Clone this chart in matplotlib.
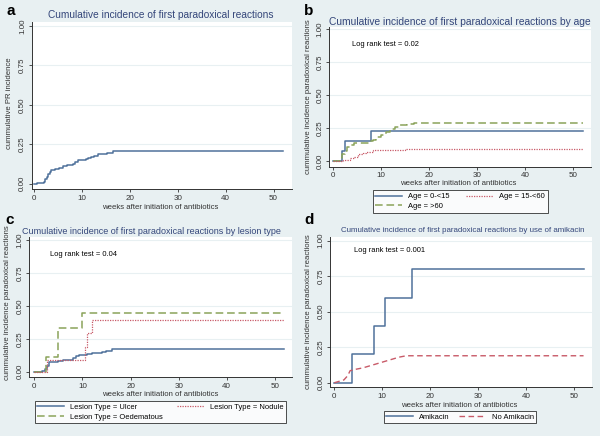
import matplotlib
matplotlib.use("Agg")
import matplotlib.pyplot as plt

plt.rcParams['font.family'] = ['Liberation Sans', 'DejaVu Sans']

W, H = 600, 436
BG = '#e8f0f2'
TITLE_C = '#34467a'
BLUE = '#4f719b'
RED = '#c85a68'
GREEN = '#8aa35a'

# panel a: all patients
a_t = [0, 0.6, 2.0, 2.3, 2.6, 2.9, 3.2, 3.5, 4.3, 5.2, 6.0, 6.8, 8.0, 8.6, 9.1,
       10.9, 11.3, 11.8, 12.5, 13.3, 14.2, 15.1, 16.5, 52]
a_y = [0, 0.007, 0.013, 0.03, 0.045, 0.06, 0.075, 0.085, 0.09, 0.10, 0.11, 0.12,
       0.125, 0.135, 0.148, 0.156, 0.165, 0.172, 0.178, 0.185, 0.19, 0.197, 0.205, 0.205]

# panel b: by age
b_young_t = [0, 1.9, 2.5, 8.0, 52]
b_young_y = [0, 0.076, 0.155, 0.228, 0.228]
b_mid_t = [0, 2.2, 3.5, 4.5, 5.3, 6.2, 7.0, 8.3, 15.0, 52]
b_mid_y = [0, 0.01, 0.02, 0.033, 0.05, 0.06, 0.065, 0.083, 0.092, 0.092]
b_old_t = [0, 1.5, 2.0, 2.5, 3.0, 3.5, 4.5, 6.0, 7.5, 8.3, 9.0, 10.0, 11.0, 12.0,
           13.0, 14.0, 15.5, 16.8, 52]
b_old_y = [0, 0.02, 0.05, 0.08, 0.11, 0.125, 0.135, 0.14, 0.15, 0.16, 0.18, 0.20,
           0.22, 0.24, 0.255, 0.27, 0.28, 0.29, 0.29]

# panel c: by lesion type
c_ulcer_t = [0, 1.5, 2.2, 2.6, 3.0, 4.0, 5.0, 6.0, 7.0, 8.0, 8.7, 9.3, 11.0, 12.0,
             13.0, 14.0, 15.0, 16.2, 52]
c_ulcer_y = [0, 0.005, 0.02, 0.04, 0.07, 0.075, 0.08, 0.085, 0.09, 0.10, 0.115,
             0.13, 0.135, 0.14, 0.145, 0.15, 0.16, 0.17, 0.17]
c_oed_t = [0, 2.5, 5.0, 9.9, 52]
c_oed_y = [0, 0.11, 0.333, 0.444, 0.444]
c_nod_t = [0, 2.6, 10.5, 10.9, 11.9, 52]
c_nod_y = [0, 0.09, 0.19, 0.29, 0.395, 0.395]

# panel d: by amikacin
d_ami_t = [0, 3.6, 8.3, 10.6, 16.3, 52]
d_ami_y = [0, 0.2, 0.4, 0.6, 0.8, 0.8]
d_no_t = [0, 1.0, 2.0, 2.8, 3.3, 4.5, 6.0, 7.5, 9.0, 10.5, 12.0, 13.5, 15.0, 52]
d_no_y = [0, 0.01, 0.02, 0.05, 0.085, 0.095, 0.105, 0.12, 0.135, 0.15, 0.165,
          0.18, 0.19, 0.19]

xticks = [0, 10, 20, 30, 40, 50]
yticks = [0, 0.25, 0.5, 0.75, 1.0]
ytlabels = ['0.00', '0.25', '0.50', '0.75', '1.00']

fig = plt.figure(figsize=(6, 4.36), dpi=100, facecolor=BG)


def px_axes(l, t, r, b, xlim, ylim):
    ax = fig.add_axes([l / W, (H - b) / H, (r - l) / W, (b - t) / H])
    ax.set_facecolor('white')
    ax.set_xlim(*xlim)
    ax.set_ylim(*ylim)
    for s in ['top', 'right']:
        ax.spines[s].set_visible(False)
    for s in ['left', 'bottom']:
        ax.spines[s].set_color('#333333')
        ax.spines[s].set_linewidth(0.7)
    ax.set_xticks(xticks)
    ax.set_yticks(yticks)
    ax.set_yticklabels(ytlabels, rotation=90, va='center')
    ax.tick_params(labelsize=5.8, length=2.5, width=0.6, pad=1.5, colors='#333333')
    for v in yticks[1:]:
        ax.axhline(v, color=BG, lw=0.8, zorder=0)
    return ax


def ftext(x, y, s, **kw):
    fig.text(x / W, 1 - y / H, s, **kw)


def add_legend(handles, cx, cy, colsp):
    leg = fig.legend(handles=handles, ncol=2, loc='center', bbox_to_anchor=(cx / W, 1 - cy / H),
                     fontsize=5.4, frameon=True, fancybox=False, edgecolor='black', facecolor='white',
                     handlelength=3.6, columnspacing=colsp, borderpad=0.35, labelspacing=0.35,
                     handletextpad=0.8, borderaxespad=0)
    leg.get_frame().set_linewidth(0.6)


# ---- a ----
ax = px_axes(31.7, 21.7, 291.7, 189, (-0.55, 53.8), (-0.034, 1.027))
ax.step(a_t, a_y, where='post', color=BLUE, lw=1.1)
ftext(10, 103, 'cummulative PR incidence', rotation=90, ha='center', va='center', fontsize=5.6, color='#333333')
ftext(160, 207, 'weeks after initiation of antibiotics', ha='center', va='center', fontsize=5.6, color='#333333')
ftext(161, 15, 'Cumulative incidence of first paradoxical reactions', ha='center', va='center', fontsize=7.3, color=TITLE_C)
ftext(11, 11, 'a', ha='center', va='center', fontsize=11, fontweight='bold')

# ---- b ----
ax = px_axes(329.3, 26.7, 590.7, 166.7, (-0.7, 53.6), (-0.043, 1.02))
l1, = ax.step(b_young_t, b_young_y, where='post', color=BLUE, lw=1.1, label='Age = 0-<15')
l3, = ax.step(b_old_t, b_old_y, where='post', color=GREEN, lw=1.1, ls=(0, (5, 2.5)), label='Age = >60')
l2, = ax.step(b_mid_t, b_mid_y, where='post', color=RED, lw=0.9, ls=(0, (1, 1)), label='Age = 15-<60')
add_legend([l1, l3, l2], 460, 201.5, 2.2)
ftext(308, 97, 'cummulative incidence paradoxical reactions', rotation=90, ha='center', va='center', fontsize=5.6, color='#333333')
ftext(458, 183, 'weeks after initiation of antibiotics', ha='center', va='center', fontsize=5.6, color='#333333')
ftext(460, 22, 'Cumulative incidence of first paradoxical reactions by age', ha='center', va='center', fontsize=7.4, color=TITLE_C)
ftext(352, 45, 'Log rank test = 0.02', ha='left', va='center', fontsize=5.4)
ftext(309, 11, 'b', ha='center', va='center', fontsize=11, fontweight='bold')

# ---- c ----
ax = px_axes(29.3, 236.7, 291.7, 377.3, (-1.04, 53.5), (-0.043, 1.025))
l1, = ax.step(c_ulcer_t, c_ulcer_y, where='post', color=BLUE, lw=1.1, label='Lesion Type = Ulcer')
l3, = ax.step(c_oed_t, c_oed_y, where='post', color=GREEN, lw=1.1, ls=(0, (5, 2.5)), label='Lesion Type = Oedematous')
l2, = ax.step(c_nod_t, c_nod_y, where='post', color=RED, lw=0.9, ls=(0, (1, 1)), label='Lesion Type = Nodule')
add_legend([l1, l3, l2], 160.5, 412, 1.9)
ftext(8, 303, 'cummulative incidence paradoxical reactions', rotation=90, ha='center', va='center', fontsize=5.6, color='#333333')
ftext(160, 394, 'weeks after initiation of antibiotics', ha='center', va='center', fontsize=5.6, color='#333333')
ftext(151, 231.5, 'Cumulative incidence of first paradoxical reactions by lesion type', ha='center', va='center', fontsize=6.5, color=TITLE_C)
ftext(50, 254, 'Log rank test = 0.04', ha='left', va='center', fontsize=5.4)
ftext(10, 220, 'c', ha='center', va='center', fontsize=11, fontweight='bold')

# ---- d ----
ax = px_axes(330, 236.7, 591.7, 387.3, (-0.9, 53.7), (-0.032, 1.028))
l1, = ax.step(d_ami_t, d_ami_y, where='post', color=BLUE, lw=1.1, label='Amikacin')
l2, = ax.plot(d_no_t, d_no_y, color=RED, lw=1.0, ls=(0, (4, 2.5)), label='No Amikacin')
add_legend([l1, l2], 460, 417, 1.2)
ftext(308, 312, 'cummulative incidence paradoxical reactions', rotation=90, ha='center', va='center', fontsize=5.6, color='#333333')
ftext(459, 405, 'weeks after initiation of antibiotics', ha='center', va='center', fontsize=5.6, color='#333333')
ftext(463, 230.5, 'Cumulative incidence of first paradoxical reactions by use of amikacin', ha='center', va='center', fontsize=5.7, color=TITLE_C)
ftext(354, 250, 'Log rank test = 0.001', ha='left', va='center', fontsize=5.4)
ftext(309, 220, 'd', ha='center', va='center', fontsize=11, fontweight='bold')

fig.savefig('out.png', dpi=100, facecolor=BG)
